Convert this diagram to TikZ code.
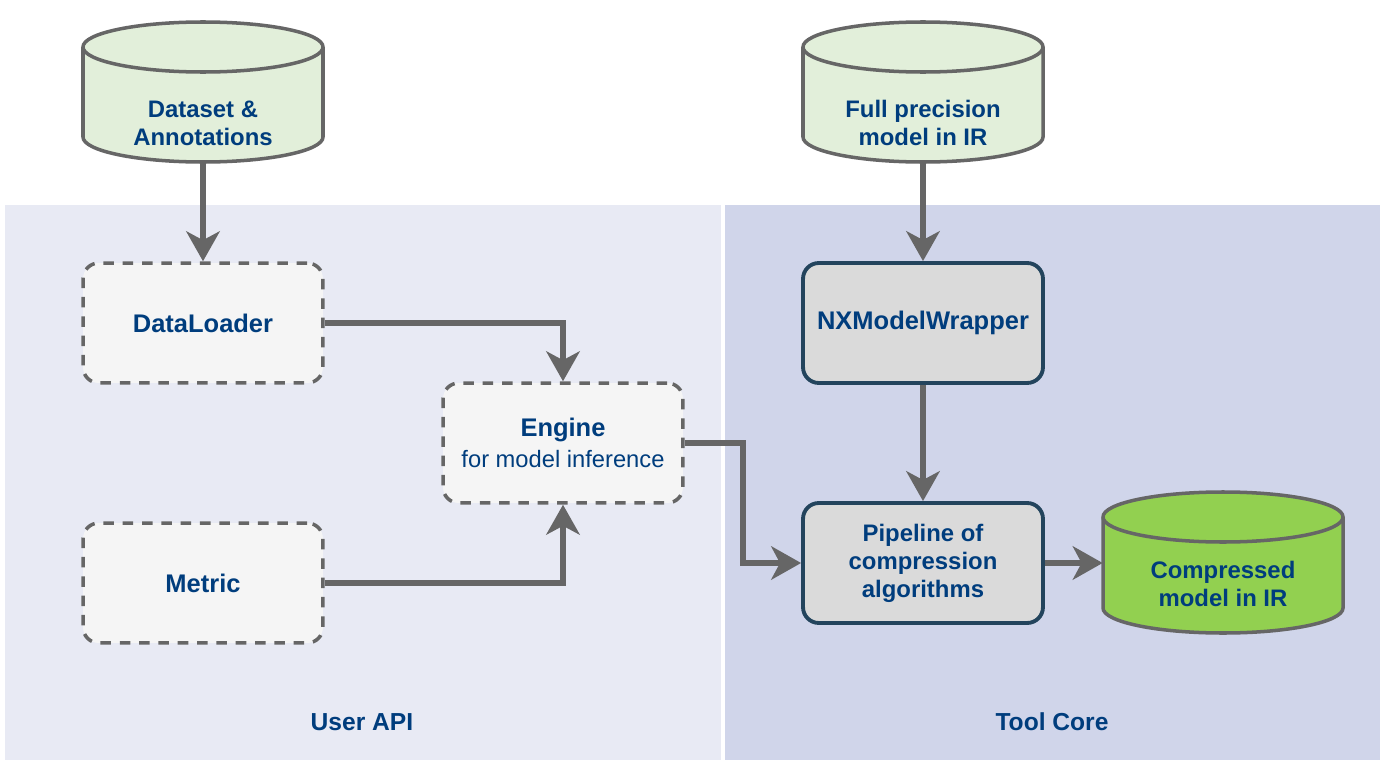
\documentclass[tikz,border=0pt]{standalone}
\usepackage{fontspec}
\setmainfont{Liberation Sans}
\usetikzlibrary{arrows.meta}
\definecolor{txtblue}{RGB}{0,61,125}
\definecolor{linegray}{RGB}{102,102,102}
\definecolor{panelL}{RGB}{232,234,244}
\definecolor{panelR}{RGB}{208,213,234}
\definecolor{cylfill}{RGB}{226,239,218}
\definecolor{cylgreen}{RGB}{146,208,80}
\definecolor{dashfill}{RGB}{245,245,245}
\definecolor{corefill}{RGB}{218,218,218}
\definecolor{coreborder}{RGB}{35,68,93}
\tikzset{
  lbl/.style={text=txtblue, font=\fontsize{13.6}{16}\selectfont\bfseries, align=center},
  dashbox/.style={draw=linegray, line width=2pt, dash pattern=on 6pt off 5pt, fill=dashfill, rounded corners=9pt, minimum width=4.8cm, minimum height=2.4cm, text=txtblue, font=\fontsize{14.5}{17}\selectfont\bfseries, align=center},
  corebox/.style={draw=coreborder, line width=2.2pt, fill=corefill, rounded corners=9pt, minimum width=4.8cm, minimum height=2.4cm, text=txtblue, align=center},
  cylnode/.style={minimum width=4.8cm, minimum height=2.8cm, inner sep=0pt},
  conn/.style={draw=linegray, line width=3.2pt, -{Stealth[length=17pt,width=19pt,inset=5pt]}},
  cylline/.style={draw=linegray, line width=2pt}
}
\begin{document}
\begin{tikzpicture}[x=0.02cm, y=-0.02cm]
\useasboundingbox (0,0) rectangle (1384,764);
\fill[panelL] (5,205) rectangle (721,760);
\fill[panelR] (725,205) rectangle (1380,760);

% cylinder 1
\filldraw[cylline, fill=cylfill] (83,47) -- (83,137) arc[start angle=180, end angle=0, x radius=120, y radius=25] -- (323,47) arc[start angle=0, end angle=-180, x radius=120, y radius=25] -- cycle;
\draw[cylline] (83,47) arc[start angle=180, end angle=0, x radius=120, y radius=25];
\node[cylnode] (ds) at (203,92) {};
\node[lbl] (dstext) at (203,123) {Dataset \&\\Annotations};

% cylinder 2
\filldraw[cylline, fill=cylfill] (803,47) -- (803,137) arc[start angle=180, end angle=0, x radius=120, y radius=25] -- (1043,47) arc[start angle=0, end angle=-180, x radius=120, y radius=25] -- cycle;
\draw[cylline] (803,47) arc[start angle=180, end angle=0, x radius=120, y radius=25];
\node[cylnode] (fp) at (923,92) {};
\node[lbl] (fptext) at (923,123) {Full precision\\model in IR};

% cylinder 3
\filldraw[cylline, fill=cylgreen] (1103,517) -- (1103,608) arc[start angle=180, end angle=0, x radius=120, y radius=25] -- (1343,517) arc[start angle=0, end angle=-180, x radius=120, y radius=25] -- cycle;
\draw[cylline] (1103,517) arc[start angle=180, end angle=0, x radius=120, y radius=25];
\node[cylnode] (cm) at (1223,563) {};
\node[lbl] (cmtext) at (1223,584) {Compressed\\model in IR};

% dashed boxes
\node[dashbox] (dl) at (203,323) {DataLoader};
\node[dashbox] (eng) at (563,443) {Engine\\[1pt]{\fontsize{13.5}{16}\selectfont\mdseries for model inference}};
\node[dashbox] (met) at (203,583) {Metric};

% core boxes
\node[corebox, font=\fontsize{14.5}{17}\selectfont\bfseries] (nx) at (923,323) {NXModelWrapper};
\node[corebox, font=\fontsize{13.6}{16}\selectfont\bfseries] (pipe) at (923,563) {Pipeline of\\compression\\algorithms};

% panel labels
\node[lbl, font=\fontsize{14}{17}\selectfont\bfseries] (userapi) at (362,722) {User API};
\node[lbl, font=\fontsize{14}{17}\selectfont\bfseries] (toolcore) at (1052,722) {Tool Core};

% connectors
\draw[conn] (ds.south) -- (dl.north);
\draw[conn] (dl.east) -| (eng.north);
\draw[conn] (met.east) -| (eng.south);
\draw[conn] (eng.east) -- (743,443) |- (pipe.west);
\draw[conn] (fp.south) -- (nx.north);
\draw[conn] (nx.south) -- (pipe.north);
\draw[conn] (pipe.east) -- (cm.west);
\end{tikzpicture}
\end{document}
